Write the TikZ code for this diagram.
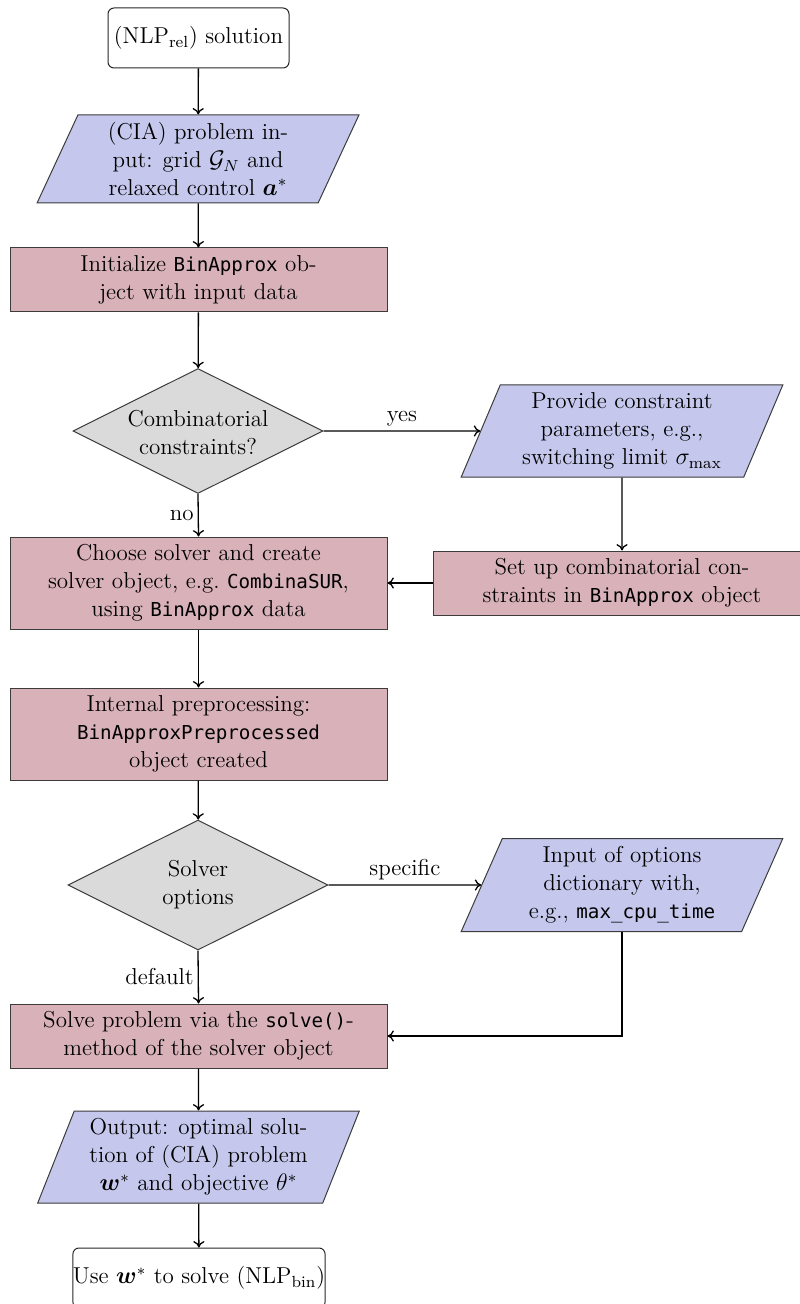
\documentclass[tikz,border=0pt]{standalone}
\usepackage{amsmath,amssymb}
\usepackage{fontspec}
\setmonofont{DejaVu Sans Mono}[Scale=0.835]
\usepackage{bm}
\usetikzlibrary{shapes.geometric,arrows.meta}
\definecolor{iofill}{RGB}{197,200,236}
\definecolor{procfill}{RGB}{216,177,185}
\definecolor{decfill}{RGB}{218,218,218}
\definecolor{edgegray}{RGB}{60,60,60}
\tikzset{
  txt/.style={font=\fontsize{11.5}{14}\selectfont, align=center, inner sep=0pt},
  startstop/.style={draw=black!85, line width=0.5pt, rounded corners=3pt, minimum width=#1, minimum height=30pt, txt},
  proc/.style={draw=edgegray, line width=0.5pt, fill=procfill, minimum width=188.5pt, txt},
  iobox/.style={trapezium, trapezium left angle=68, trapezium right angle=112, trapezium stretches=true,
    draw=edgegray, line width=0.5pt, fill=iofill, txt, inner sep=1pt, minimum width=161pt, minimum height=#1},
  decbox/.style={diamond, draw=edgegray, line width=0.5pt, fill=decfill, inner sep=1pt},
  arr/.style={-{To[length=3.2pt,width=5.6pt]}, line width=0.65pt},
  lbl/.style={font=\fontsize{11.5}{14}\selectfont, inner sep=2pt}
}
\begin{document}
\begin{tikzpicture}[x=0.5pt,y=-0.5pt]
\useasboundingbox (0,0) rectangle (799,1304);

\node[startstop=90.5pt] (start) at (198.5,38) {(NLP\textsubscript{rel}) solution};

\node[iobox=44pt] (in1) at (198,159) {(CIA) problem in-\\put: grid $\mathcal{G}_N$ and\\relaxed control $\bm{a}^*$};

\node[proc, minimum height=32pt] (init) at (198.5,280) {Initialize \texttt{BinApprox} ob-\\ject with input data};

\node[decbox, minimum width=125pt, minimum height=62.5pt] (d1) at (198,431) {\phantom{x}};
\node[txt] (d1t) at ([yshift=-1pt]d1.center) {Combinatorial\\constraints?};

\node[iobox=46pt] (in2) at (622,431) {Provide constraint\\parameters, e.g.,\\switching limit $\sigma_{\max}$};

\node[proc, minimum height=32pt] (setup) at (622,583) {Set up combinatorial con-\\straints in \texttt{BinApprox} object};

\node[proc, minimum height=46pt] (choose) at (198.5,583) {Choose solver and create\\solver object, e.g.\ \texttt{CombinaSUR},\\using \texttt{BinApprox} data};

\node[proc, minimum height=46pt] (prep) at (198.5,734) {Internal preprocessing:\\\texttt{BinApproxPreprocessed}\\object created};

\node[decbox, minimum width=130pt, minimum height=65pt] (d2) at (198,885) {\phantom{x}};
\node[txt] (d2t) at (d2.center) {Solver\\options};

\node[iobox=46.5pt] (in3) at (622,885) {Input of options\\dictionary with,\\e.g., \texttt{max\_cpu\_time}};

\node[proc, minimum height=32pt] (solve) at (198.5,1036) {Solve problem via the \texttt{solve()}-\\method of the solver object};

\node[iobox=46pt] (out) at (198.5,1157) {Output: optimal solu-\\tion of (CIA) problem\\$\bm{w}^*$ and objective $\theta^*$};

\node[startstop=126pt] (end) at (199,1278) {Use $\bm{w}^*$ to solve (NLP\textsubscript{bin})};

\draw[arr] (start) -- (in1);
\draw[arr] (in1) -- (init);
\draw[arr] (init) -- (d1);
\draw[arr] (d1.east) -- node[lbl, above] {yes} (in2.west);
\draw[arr] (in2) -- (setup);
\draw[arr] (setup.west) -- (choose.east);
\draw[arr] (d1.south) -- node[lbl, left] {no} (choose.north);
\draw[arr] (choose) -- (prep);
\draw[arr] (prep) -- (d2);
\draw[arr] (d2.east) -- node[lbl, above] {specific} (in3.west);
\draw[arr] (d2.south) -- node[lbl, left] {default} (solve.north);
\draw[arr] (in3.south) |- (solve.east);
\draw[arr] (solve) -- (out);
\draw[arr] (out) -- (end);
\end{tikzpicture}
\end{document}
